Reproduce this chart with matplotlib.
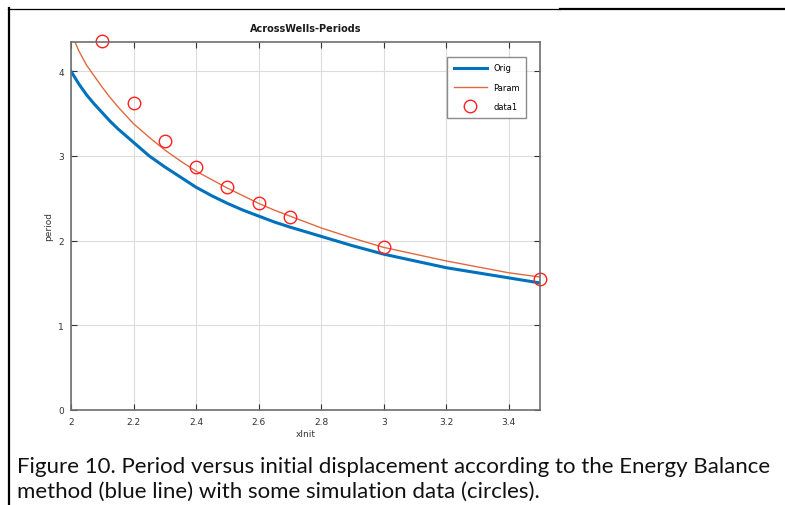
import matplotlib
matplotlib.use("Agg")

import matplotlib.pyplot as plt
from matplotlib.lines import Line2D

# values
orig_x = [2.0, 2.025, 2.05, 2.075, 2.1, 2.125, 2.15, 2.175, 2.2, 2.25, 2.3, 2.35, 2.4, 2.45,
          2.5, 2.55, 2.6, 2.65, 2.7, 2.8, 2.9, 3.0, 3.1, 3.2, 3.3, 3.4, 3.5]
orig_y = [4.00, 3.85, 3.72, 3.61, 3.51, 3.41, 3.32, 3.24, 3.16, 3.00, 2.87, 2.75, 2.63, 2.53,
          2.44, 2.36, 2.29, 2.22, 2.16, 2.05, 1.94, 1.84, 1.76, 1.68, 1.62, 1.56, 1.50]

param_x = [2.01, 2.025, 2.05, 2.075, 2.1, 2.125, 2.15, 2.175, 2.2, 2.25, 2.3, 2.35, 2.4, 2.45,
           2.5, 2.55, 2.6, 2.65, 2.7, 2.8, 2.9, 3.0, 3.1, 3.2, 3.3, 3.4, 3.5]
param_y = [4.37, 4.24, 4.07, 3.94, 3.81, 3.69, 3.58, 3.48, 3.38, 3.22, 3.07, 2.94, 2.82, 2.72,
           2.62, 2.53, 2.44, 2.36, 2.29, 2.15, 2.03, 1.92, 1.84, 1.76, 1.69, 1.62, 1.57]

sim_x = [2.1, 2.2, 2.3, 2.4, 2.5, 2.6, 2.7, 3.0, 3.5]
sim_y = [4.36, 3.62, 3.18, 2.87, 2.63, 2.44, 2.28, 1.93, 1.55]

x_ticks = [2, 2.2, 2.4, 2.6, 2.8, 3, 3.2, 3.4]
x_labels = ["2", "2.2", "2.4", "2.6", "2.8", "3", "3.2", "3.4"]
y_ticks = [0, 1, 2, 3, 4]

caption = ("Figure 10. Period versus initial displacement according to the Energy Balance\n"
           "method (blue line) with some simulation data (circles).")

W, H = 785, 506
fig = plt.figure(figsize=(W / 100, H / 100), dpi=100)
ax = fig.add_axes([71 / W, 1 - 411 / H, (540 - 71) / W, (411 - 43) / H])

ax.plot(orig_x, orig_y, color="#0072BD", lw=2.2, label="Orig")
ax.plot(param_x, param_y, color="#E06A40", lw=1.0, label="Param")
ax.plot(sim_x, sim_y, "o", mfc="none", mec="#FF2020", ms=9, mew=1.0, label="data1", clip_on=False)

ax.set_xlim(2, 3.5)
ax.set_ylim(0, 4.345)
ax.set_xticks(x_ticks)
ax.set_xticklabels(x_labels)
ax.set_yticks(y_ticks)
ax.grid(True, color="#dcdcdc", lw=0.8)
ax.set_axisbelow(True)

ax.tick_params(direction="in", top=True, right=True, length=4, width=0.8,
               labelsize=6.5, colors="#333333", pad=5)
for s in ax.spines.values():
    s.set_color("#6e6e6e")
    s.set_linewidth(1.2)

ax.set_title("AcrossWells-Periods", fontsize=7, fontweight="bold", color="#1a1a1a", pad=8)
ax.set_xlabel("xInit", fontsize=6.5, color="#333333", labelpad=2)
ax.set_ylabel("period", fontsize=6.5, color="#333333", labelpad=4)

leg = ax.legend(loc="upper right", bbox_to_anchor=(0.98, 0.97), fontsize=6,
                fancybox=False, edgecolor="#6e6e6e", handlelength=4, labelspacing=1.25,
                borderpad=0.75, numpoints=1)
leg.get_frame().set_linewidth(1.0)

fig.text(17 / W, 1 - 457 / H, caption, fontsize=16, family="Lato", color="#111111",
         va="top", ha="left", linespacing=1.3)

# page border around the screenshot
fig.add_artist(Line2D([9 / W, 9 / W], [0, 1 - 9 / H], color="black", lw=1.6))
fig.add_artist(Line2D([8 / W, 560 / W], [1 - 9.5 / H, 1 - 9.5 / H], color="black", lw=0.9))
fig.add_artist(Line2D([560 / W, 1], [1 - 10 / H, 1 - 10 / H], color="black", lw=1.6))

fig.savefig("out.png", dpi=100)
